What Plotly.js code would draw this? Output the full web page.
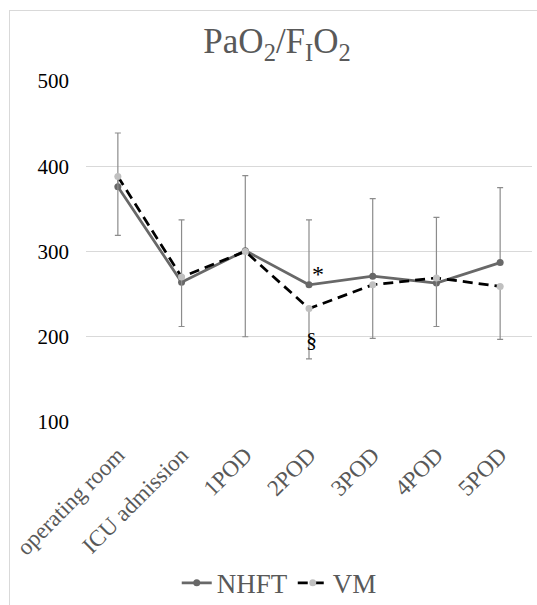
<!DOCTYPE html>
<html>
<head>
<meta charset="utf-8">
<script src="https://cdn.plot.ly/plotly-3.0.1.min.js"></script>
<style>
  html, body { margin: 0; padding: 0; background: #fff; overflow: hidden; width: 537px; height: 605px; }
  #chart { width: 537px; height: 605px; position: absolute; left: 0; top: 0; }
  #frame { position: absolute; left: 9px; top: 10px; width: 700px; height: 800px;
           border: 1px solid #d9d9d9; pointer-events: none; }
</style>
</head>
<body>
<div id="chart"></div>
<div id="frame"></div>
<script>
const categories = ["operating room", "ICU admission", "1POD", "2POD", "3POD", "4POD", "5POD"];
const nhftValues = [376, 264, 301, 261, 271, 263, 287];
const vmValues   = [388, 270, 300, 233, 261, 269, 259];
// upper error bar (drawn from NHFT) and lower error bar (drawn from VM)
const nhftErrUp  = [63, 73, 88, 76, 91, 77, 88];
const vmErrDown  = [69, 58, 100, 59, 63, 57, 62];
const yTicks = [100, 200, 300, 400, 500];

const serif = '"Liberation Serif", "Times New Roman", serif';

const traces = [
  {
    x: categories, y: nhftValues, name: "NHFT", type: "scatter", mode: "lines+markers",
    line: { color: "#686868", width: 2.75 },
    marker: { color: "#686868", size: 7 },
    error_y: { type: "data", symmetric: false, array: nhftErrUp,
               arrayminus: nhftValues.map(() => 0), color: "#8c8c8c", thickness: 1.2, width: 3 }
  },
  {
    x: categories, y: vmValues, name: "VM", type: "scatter", mode: "lines+markers",
    line: { color: "#000000", width: 2.75, dash: "10px,6px" },
    marker: { color: "#c0c0c0", size: 7 },
    error_y: { type: "data", symmetric: false, array: vmValues.map(() => 0),
               arrayminus: vmErrDown, color: "#8c8c8c", thickness: 1.2, width: 3 }
  }
];

const layout = {
  width: 537, height: 605,
  margin: { l: 86, r: 5, t: 81, b: 183, autoexpand: false },
  paper_bgcolor: "rgba(0,0,0,0)", plot_bgcolor: "rgba(0,0,0,0)",
  font: { family: serif, color: "#595959" },
  showlegend: true,
  title: {
    text: "PaO<sub>2</sub>/F<sub>I</sub>O<sub>2</sub>",
    font: { family: serif, size: 35, color: "#595959" },
    x: 0.516, xanchor: "center", y: 0.932, yanchor: "middle"
  },
  xaxis: {
    type: "category", range: [-0.5, 6.5], automargin: false,
    tickangle: -45, tickfont: { family: serif, size: 23, color: "#595959" },
    showgrid: false, zeroline: false, showline: false, ticks: "",
    ticklabelstandoff: 14
  },
  yaxis: {
    range: [100, 500], tickvals: yTicks, ticktext: yTicks.map(String), automargin: false,
    tickfont: { family: serif, size: 21, color: "#000" },
    gridcolor: "#d9d9d9", gridwidth: 1, zeroline: false, showline: false, ticks: "",
    ticklabelstandoff: 16
  },
  legend: {
    orientation: "h", x: 0.52, xref: "container", xanchor: "center",
    y: 0.036, yref: "container", yanchor: "middle",
    font: { family: serif, size: 27, color: "#595959" }, itemwidth: 30
  },
  annotations: [
    { x: "2POD", y: 261, text: "*", showarrow: false, xshift: 9, yshift: 11,
      font: { family: serif, size: 24, color: "#000000" } },
    { x: "2POD", y: 233, text: "§", showarrow: false, xshift: 2, yshift: -31,
      font: { family: serif, size: 22, color: "#000000" } }
  ]
};

Plotly.newPlot("chart", traces, layout, { displayModeBar: false, staticPlot: true });
</script>
</body>
</html>
